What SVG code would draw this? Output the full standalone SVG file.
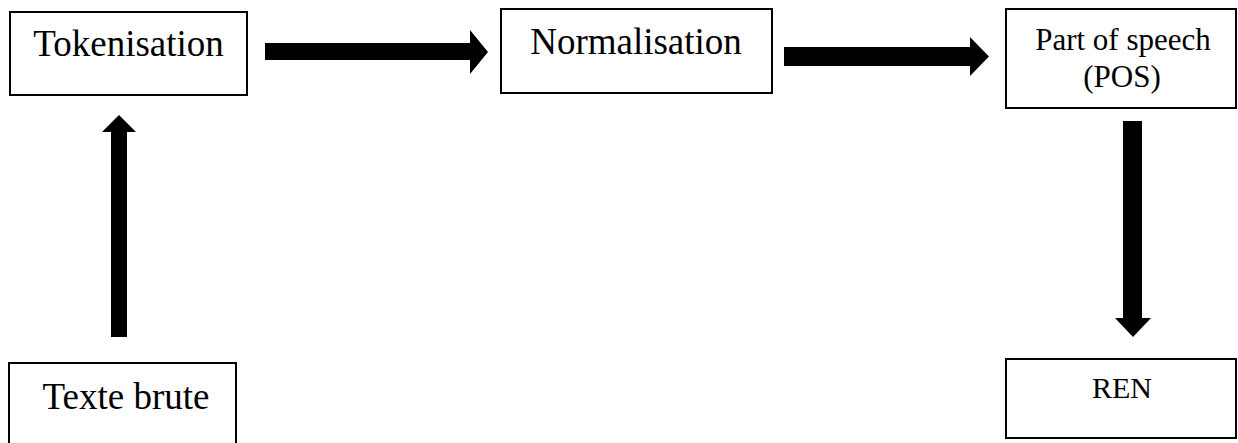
<svg xmlns="http://www.w3.org/2000/svg" width="1238" height="443" viewBox="0 0 1238 443">
<style>
.box{fill:#fff;stroke:#000;stroke-width:2}
.t{font-family:"Liberation Serif","Times New Roman",serif;fill:#000;text-anchor:middle}
.arr{fill:#000;stroke:none}
</style>
<rect width="1238" height="443" fill="#fff"/>
<g id="tokenisation">
<rect class="box" x="10" y="12" width="237" height="83"/>
<text class="t" x="128.5" y="56" font-size="37">Tokenisation</text>
</g>
<g id="normalisation">
<rect class="box" x="501" y="9" width="271" height="84"/>
<text class="t" x="636" y="54" font-size="37">Normalisation</text>
</g>
<g id="pos">
<rect class="box" x="1006" y="9" width="230" height="99"/>
<text class="t" x="1123" y="50" font-size="31">Part of speech</text>
<text class="t" x="1122" y="87" font-size="31">(POS)</text>
</g>
<g id="ren">
<rect class="box" x="1006" y="359" width="230" height="79"/>
<text class="t" x="1122" y="398" font-size="30">REN</text>
</g>
<g id="texte-brute">
<rect class="box" x="9" y="363" width="227" height="100"/>
<text class="t" x="126" y="409" font-size="37">Texte brute</text>
</g>
<g id="connectors">
<polygon class="arr" points="265,43 470,43 470,30 488,52 470,74 470,60 265,60"/>
<polygon class="arr" points="784,47 970,47 970,37 989,56.5 970,76 970,66 784,66"/>
<polygon class="arr" points="111,337 111,132 102,132 119,115 136,132 127,132 127,337"/>
<polygon class="arr" points="1123,121 1142,121 1142,318 1151,318 1133,337 1115,318 1123,318"/>
</g>
</svg>
